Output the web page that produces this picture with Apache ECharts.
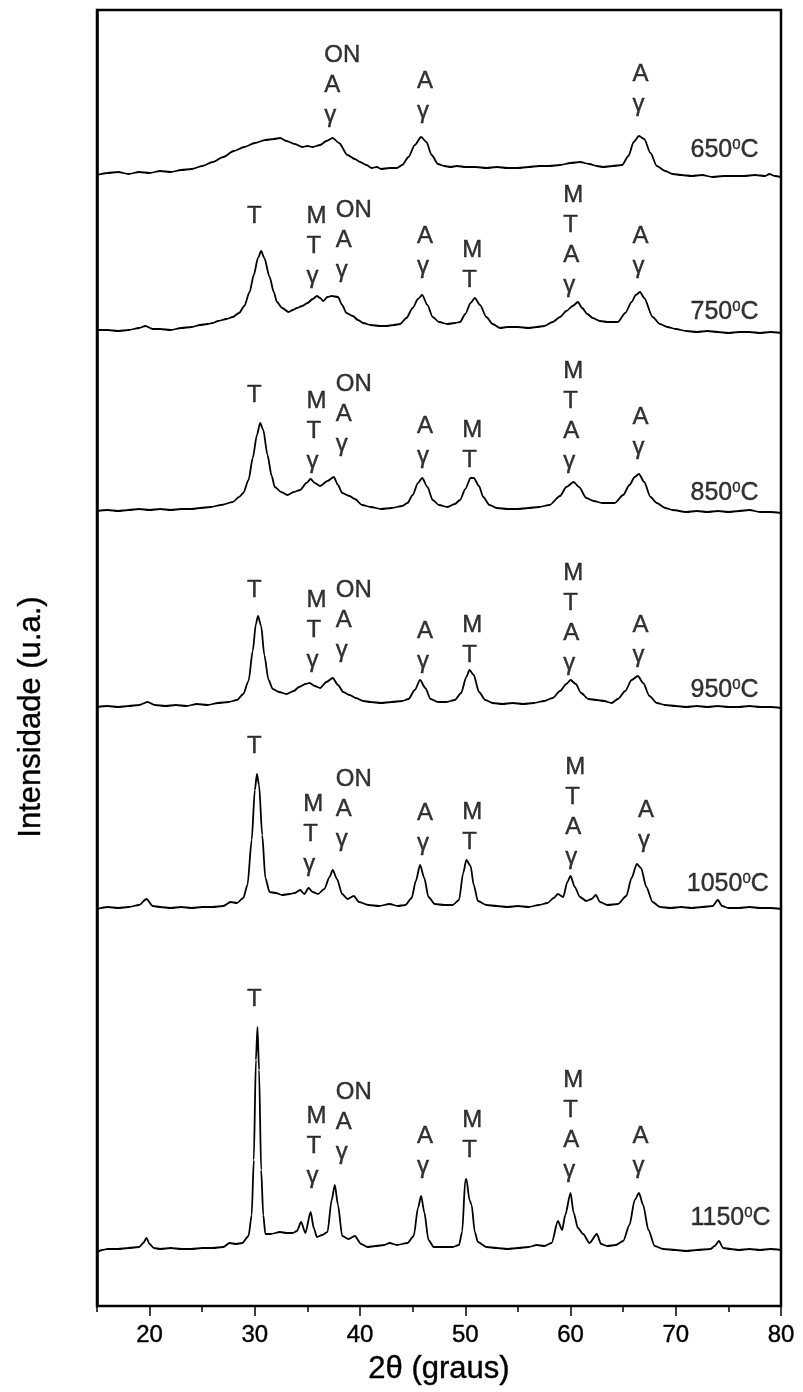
<!DOCTYPE html>
<html>
<head>
<meta charset="utf-8">
<script src="https://cdn.jsdelivr.net/npm/echarts@6/dist/echarts.min.js"></script>
<style>
  html, body { margin: 0; padding: 0; background: #fff; }
  #chart { width: 803px; height: 1392px; }
</style>
</head>
<body>
<div id="chart"></div>
<script>
// X-ray diffraction patterns of the calcined powders, one per temperature.
// Each pattern: [2θ (graus), intensidade (u.a.)] relative to its own baseline.
const temperatures = ['650', '750', '850', '950', '1050', '1150'];
// vertical stacking offsets (u.a.) for each pattern
const offsets = [1129, 973, 793, 598, 396, 56];

const xrd650 = [
  [15,2],[16,4],[17,5],[18,3],[19,5],[20,4],[21,6],[22,5],[23,7],[24,8],[25,11],[26,15],
  [27,20],[28,26],[29,30],[30,34],[31,37],[31.8,38],[32.4,39],[33,36],[33.8,33],[34.5,30],
  [35,31],[35.5,30],[36.2,32],[36.8,36],[37.4,39],[38,34],[38.8,22],[39.5,18],[40,15],
  [40.6,12],[41.1,9],[41.6,10],[42,8],[42.8,9],[43.5,9],[44,12],[44.6,20],[45.2,32],
  [45.8,40],[46.3,35],[46.8,22],[47.4,13],[48,11],[48.6,10],[49.2,11],[50,10],[51,10],
  [52,9],[53,10],[54,9],[55,9],[56,10],[57,11],[58,11],[59,12],[60,14],[60.9,15],[61.8,13],
  [62.5,11],[63.1,10],[64,11],[64.9,12],[65.5,21],[66,35],[66.5,41],[67,38],[67.6,24],
  [68.2,11],[69,6],[69.7,3],[70.5,2],[71.5,1],[72.5,2],[73.5,0],[74.5,1],[75.5,1],[76.5,1],
  [77.5,2],[78.5,1],[78.9,3],[79.4,1],[80,0]
];
const xrd750 = [
  [15,3],[16,3],[17,2],[18,3],[19,5],[19.6,7],[20.3,4],[21,4],[22,3],[23,5],[24,6],[24.8,8],
  [25.5,9],[26,10],[26.5,12],[27.3,14],[27.9,16],[28.5,20],[29,27],[29.5,41],[29.9,58],
  [30.3,75],[30.6,82],[30.9,75],[31.4,56],[31.8,41],[32.1,31],[32.6,25],[33.2,21],[33.6,23],
  [34,25],[34.5,27],[35,30],[35.5,34],[35.9,37],[36.2,35],[36.5,32],[36.9,36],[37.3,37],
  [37.9,36],[38.3,28],[38.7,20],[39.3,17],[39.8,13],[40.3,10],[41,8],[41.9,7],[42.5,7],
  [43.2,8],[43.8,9],[44.4,15],[45,25],[45.5,34],[45.9,38],[46.4,28],[46.9,16],[47.5,11],
  [48.3,9],[49,10],[49.5,11],[50,19],[50.5,30],[50.9,35],[51.4,28],[52,16],[52.6,9],
  [53.3,5],[54,6],[55,6],[56,5],[56.8,6],[57.5,7],[58.3,11],[59,16],[59.6,22],[60.2,27],
  [60.7,31],[61.1,25],[61.6,19],[62.1,15],[62.8,12],[63.5,11],[64.5,11],[65.2,20],[65.8,31],
  [66.2,38],[66.6,41],[67,35],[67.8,16],[68.5,9],[69.2,6],[70,4],[71,2],[72,1],[73,2],
  [74,1],[75,0],[76,1],[77,1],[78,0],[79,1],[80,0]
];
const xrd850 = [
  [15,2],[16,3],[17,2],[18,3],[19,4],[20,3],[21,4],[22,3],[23,4],[24,4],[24.8,5],[25.8,6],
  [26.8,8],[27.9,11],[28.5,16],[28.9,20],[29.4,33],[29.8,55],[30.2,78],[30.5,90],[30.8,83],
  [31.2,58],[31.6,37],[31.9,26],[32.5,21],[33.1,18],[33.7,21],[34.3,23],[34.9,30],[35.3,34],
  [35.7,30],[36.2,27],[36.9,32],[37.5,36],[37.9,28],[38.3,20],[39,17],[39.5,14],[40.2,8],
  [41,6],[42,4],[43,5],[44,7],[44.5,10],[45,18],[45.5,30],[45.9,35],[46.4,26],[46.9,13],
  [47.5,8],[48.3,6],[49,9],[49.5,13],[50,24],[50.5,35],[50.8,35],[51.3,27],[51.7,16],
  [52.3,8],[53,5],[54,4],[55,4],[56,5],[57,6],[58,8],[59,17],[59.6,26],[60.3,31],[60.8,26],
  [61.5,15],[62.2,12],[63,10],[64.2,10],[65,18],[65.6,28],[66.1,36],[66.5,39],[67,31],
  [67.6,16],[68.2,10],[69,5],[69.7,3],[71,1],[72,2],[73,1],[74,2],[75,1],[76,2],[77,3],
  [78,1],[79,1],[80,0]
];
const xrd950 = [
  [15,1],[16,2],[17,1],[18,2],[19,3],[19.8,6],[20.5,3],[21.5,2],[22.5,3],[23.5,2],[24.5,4],
  [25.5,3],[26.5,5],[27.5,6],[28.3,8],[28.9,14],[29.4,27],[29.8,57],[30.1,84],[30.3,92],
  [30.6,82],[30.9,53],[31.3,28],[31.7,19],[32.3,16],[33,14],[33.7,17],[34.2,21],[34.8,24],
  [35.2,25],[35.7,22],[36.2,20],[36.8,26],[37.4,30],[37.9,23],[38.4,16],[39,13],[39.6,10],
  [40.3,7],[41,6],[42,5],[43,6],[44,7],[44.6,9],[45.2,18],[45.7,28],[46.2,20],[46.7,9],
  [47.4,6],[48.2,6],[49,8],[49.6,15],[50.1,31],[50.4,38],[50.8,33],[51.3,16],[51.9,8],
  [52.6,5],[53.5,4],[54.5,5],[55.5,4],[56.5,5],[57.5,7],[58.3,10],[59,17],[59.6,24],[60,28],
  [60.5,24],[61,15],[61.7,9],[62.5,8],[63.2,7],[63.9,5],[64.5,9],[65.2,17],[65.8,28],
  [66.4,32],[66.9,25],[67.5,12],[68.2,5],[69,3],[70,2],[71,1],[72,2],[73,1],[74,2],[75,1],
  [76,1],[77,2],[78,1],[79,1],[80,0]
];
const xrd1050 = [
  [15,1],[16,3],[17,2],[18,3],[19,5],[19.7,11],[20.3,4],[21,3],[22,2],[23,3],[24,2],[25,3],
  [26,3],[27,4],[27.7,8],[28.3,7],[28.9,12],[29.3,25],[29.7,70],[30,120],[30.2,136],
  [30.4,125],[30.7,75],[31,32],[31.4,18],[32,17],[32.6,15],[33.3,16],[33.8,17],[34.3,20],
  [34.7,16],[35.1,22],[35.5,18],[36,16],[36.6,21],[37.1,33],[37.4,40],[37.8,31],[38.3,16],
  [38.8,11],[39.4,14],[39.9,8],[40.8,5],[41.8,4],[42.8,6],[43.6,4],[44.3,5],[44.9,12],
  [45.3,29],[45.7,45],[46.1,32],[46.5,13],[47.1,6],[48,5],[48.8,5],[49.4,10],[49.8,37],
  [50.1,50],[50.5,44],[50.8,25],[51.2,9],[52,5],[53,4],[54,3],[55,4],[56,3],[57,5],[57.8,7],
  [58.4,12],[58.8,16],[59.3,13],[59.7,28],[60,34],[60.4,23],[60.9,13],[61.5,9],[62,11],
  [62.4,15],[62.8,8],[63.5,5],[64.5,6],[65.3,14],[65.8,32],[66.3,46],[66.7,42],[67.2,23],
  [67.8,8],[68.5,3],[69.5,2],[70.5,3],[71.5,2],[72.5,3],[73.5,4],[74,10],[74.4,4],[75,2],
  [76,2],[77,3],[78,2],[79,2],[80,1]
];
const xrd1150 = [
  [15,-2],[15.5,0],[16,1],[17,1],[18,2],[19,3],[19.4,7],[19.7,12],[20,6],[20.4,2],[21,1],
  [22,2],[23,1],[24,1],[25,2],[26,2],[27,3],[27.6,7],[28.2,6],[28.8,7],[29.4,14],[29.7,35],
  [29.9,90],[30.1,190],[30.25,223],[30.4,180],[30.6,80],[30.8,35],[31,16],[31.5,16],
  [32.4,18],[33,17],[33.6,17],[34,19],[34.4,28],[34.8,17],[35.3,38],[35.6,22],[35.9,13],
  [36.4,15],[36.9,18],[37.3,50],[37.6,65],[37.9,45],[38.3,14],[38.9,11],[39.5,14],[40.1,6],
  [40.7,3],[41.5,4],[42.3,5],[42.8,7],[43.5,5],[44.5,7],[45.1,14],[45.5,42],[45.8,54],
  [46.1,38],[46.5,10],[47,3],[47.8,3],[48.8,3],[49.4,5],[49.7,18],[50,70],[50.1,71],
  [50.4,50],[50.6,45],[50.9,18],[51.2,8],[52,3],[53,2],[54,1],[55,2],[56,3],[56.8,5],
  [57.5,4],[58.2,7],[58.8,29],[59.2,20],[59.5,35],[60,57],[60.3,37],[60.7,22],[61.2,16],
  [61.8,7],[62.5,16],[62.9,6],[63.5,4],[64.3,5],[65,9],[65.6,25],[66.1,50],[66.5,57],
  [66.9,45],[67.4,20],[68,4],[68.8,1],[70,0],[71,-1],[72,0],[73.3,1],[73.7,4],[74.1,9],
  [74.5,2],[75.2,1],[76,0],[77,1],[78,0],[79,1],[80,0]
];
const patterns = [xrd650, xrd750, xrd850, xrd950, xrd1050, xrd1150];

// Phase labels: [2θ at left edge of label, height above the pattern baseline, phases]
const phases650 = [[36.6,46,'ON\nA\nγ'],[45.4,50,'A\nγ'],[65.9,57,'A\nγ']];
const phases750 = [[29.25,101,'T'],[34.9,41,'M\nT\nγ'],[37.7,47,'ON\nA\nγ'],[45.4,51,'A\nγ'],
  [49.7,37,'M\nT'],[59.3,32,'M\nT\nA\nγ'],[65.9,51,'A\nγ']];
const phases850 = [[29.25,102,'T'],[34.9,36,'M\nT\nγ'],[37.7,53,'ON\nA\nγ'],[45.4,41,'A\nγ'],
  [49.7,37,'M\nT'],[59.3,36,'M\nT\nA\nγ'],[65.9,50,'A\nγ']];
const phases950 = [[29.25,102,'T'],[34.9,32,'M\nT\nγ'],[37.7,42,'ON\nA\nγ'],[45.4,31,'A\nγ'],
  [49.7,37,'M\nT'],[59.3,29,'M\nT\nA\nγ'],[65.9,37,'A\nγ']];
const phases1050 = [[29.25,148,'T'],[34.6,30,'M\nT\nγ'],[37.7,55,'ON\nA\nγ'],[45.4,51,'A\nγ'],
  [49.7,52,'M\nT'],[59.5,37,'M\nT\nA\nγ'],[66.4,54,'A\nγ']];
const phases1150 = [[29.25,235,'T'],[34.9,58,'M\nT\nγ'],[37.7,82,'ON\nA\nγ'],[45.4,68,'A\nγ'],
  [49.7,84,'M\nT'],[59.3,64,'M\nT\nA\nγ'],[65.9,68,'A\nγ']];
const phaseLabels = [phases650, phases750, phases850, phases950, phases1050, phases1150];

// Temperature tags: [2θ at left edge, height of text centre above baseline]
const tempTags = [[71.35,27],[71.35,21],[71.35,20],[71.35,18],[71.0,26],[71.35,32]];

const majorTicks = [20, 30, 40, 50, 60, 70, 80];
const minorTicks = [15, 25, 35, 45, 55, 65, 75];

const FONT = '"Liberation Sans", Arial, Helvetica, sans-serif';
// a hairline outline gives the lettering the same weight as the curves
const INK = { color: '#000', textBorderColor: '#000', textBorderWidth: 0.4 };

const series = [];
patterns.forEach((pts, i) => {
  series.push({
    name: temperatures[i] + ' °C',
    type: 'line',
    data: pts.map(p => [p[0], p[1] + offsets[i]]),
    showSymbol: false,
    smooth: 0.25,
    smoothMonotone: 'x',
    lineStyle: { color: '#000', width: 1.8 },
    silent: true,
    z: 3
  });
  series.push({
    type: 'scatter',
    symbolSize: 1,
    itemStyle: { color: 'rgba(0,0,0,0)' },
    silent: true,
    data: phaseLabels[i].map(a => ({ value: [a[0], a[1] + offsets[i]], txt: a[2] })),
    label: Object.assign({
      show: true,
      position: 'top',
      distance: 0,
      align: 'left',
      formatter: p => p.data.txt,
      fontFamily: FONT,
      fontSize: 24,
      lineHeight: 30
    }, INK),
    z: 4
  });
  series.push({
    type: 'scatter',
    symbolSize: 1,
    itemStyle: { color: 'rgba(0,0,0,0)' },
    silent: true,
    data: [{ value: [tempTags[i][0], tempTags[i][1] + offsets[i]], t: temperatures[i] }],
    label: Object.assign({
      show: true,
      position: 'right',
      distance: 0,
      align: 'left',
      verticalAlign: 'middle',
      formatter: p => p.data.t + '{s|0}C',
      fontFamily: FONT,
      fontSize: 25,
      lineHeight: 26,
      rich: {
        s: Object.assign({ fontFamily: FONT, fontSize: 15, verticalAlign: 'top', lineHeight: 26 }, INK)
      }
    }, INK),
    z: 4
  });
});

const chart = echarts.init(document.getElementById('chart'), null, { renderer: 'canvas' });
chart.setOption({
  backgroundColor: '#fff',
  animation: false,
  grid: {
    left: 97, right: 22, top: 10, bottom: 86,
    show: true, borderColor: '#000', borderWidth: 2.5, backgroundColor: 'transparent'
  },
  xAxis: [
    {
      type: 'value', min: 15, max: 80, position: 'bottom',
      name: '2θ (graus)', nameLocation: 'middle', nameGap: 48,
      nameTextStyle: Object.assign({ fontFamily: FONT, fontSize: 31 }, INK),
      axisLine: { show: true, lineStyle: { color: '#000', width: 2 } },
      axisTick: { show: true, customValues: majorTicks, length: 10, lineStyle: { color: '#000', width: 1.5 } },
      axisLabel: Object.assign({ show: true, customValues: majorTicks, fontFamily: FONT, fontSize: 24, margin: 17 }, INK),
      splitLine: { show: false }
    },
    {
      type: 'value', min: 15, max: 80, position: 'bottom',
      axisLine: { show: false },
      axisTick: { show: true, customValues: minorTicks, length: 6, lineStyle: { color: '#000', width: 1.5 } },
      axisLabel: { show: false },
      splitLine: { show: false }
    }
  ],
  yAxis: {
    type: 'value', min: 0, max: 1296,
    axisLine: { show: true, lineStyle: { color: '#000', width: 2.5 } },
    axisTick: { show: false },
    axisLabel: { show: false },
    splitLine: { show: false }
  },
  // vertical axis title, set a little below the middle of the frame
  graphic: [{
    type: 'text',
    x: 31,
    y: 717,
    rotation: Math.PI / 2,
    style: {
      text: 'Intensidade (u.a.)',
      font: '31px ' + FONT,
      fill: '#000',
      stroke: '#000',
      lineWidth: 0.4,
      textAlign: 'center',
      textVerticalAlign: 'middle'
    }
  }],
  series: series
});
</script>
</body>
</html>
